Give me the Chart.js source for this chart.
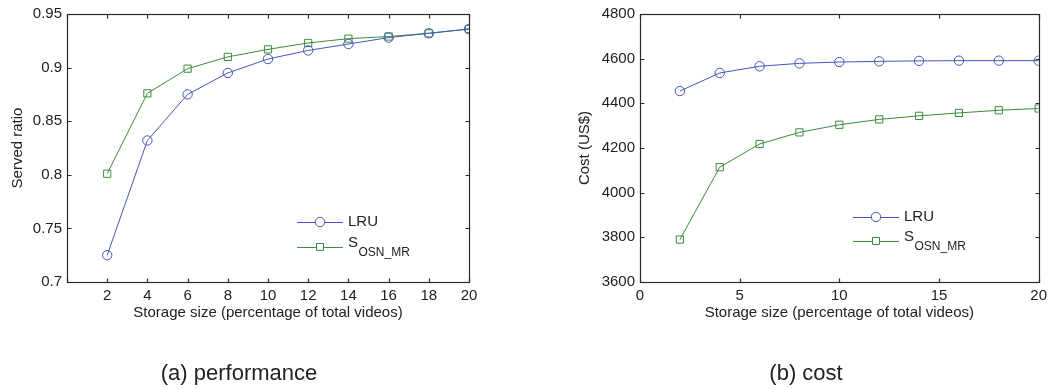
<!DOCTYPE html>
<html>
<head>
<meta charset="utf-8">
<script src="https://cdn.jsdelivr.net/npm/chart.js@4.4.0/dist/chart.umd.min.js"></script>
<style>
html, body { margin: 0; padding: 0; background: #fff; }
#wrap { position: relative; width: 1052px; height: 389px; overflow: hidden; }
.panel { position: absolute; top: 0; height: 389px; }
</style>
</head>
<body>
<div id="wrap">
	<div class="panel" style="left:0;width:520px"><canvas id="perfChart" width="520" height="389"></canvas></div>
	<div class="panel" style="left:520px;width:532px"><canvas id="costChart" width="532" height="389"></canvas></div>
</div>
<script>
// storage size (% of total videos)
var storageSizes = [2, 4, 6, 8, 10, 12, 14, 16, 18, 20];

// served ratio
var lruServed = [0.725, 0.832, 0.875, 0.895, 0.908, 0.916, 0.922, 0.928, 0.932, 0.936];
var osnServed = [0.801, 0.876, 0.899, 0.910, 0.917, 0.923, 0.927, 0.929, 0.932, 0.936];

// cost in US$
var lruCost = [4455, 4536, 4566, 4579, 4585, 4588, 4590, 4591, 4591, 4591];
var osnCost = [3790, 4114, 4218, 4270, 4304, 4328, 4344, 4357, 4369, 4377];

// axis ticks
var perfXTicks = [0, 2, 4, 6, 8, 10, 12, 14, 16, 18, 20];
var perfYTicks = [0.7, 0.75, 0.8, 0.85, 0.9, 0.95];
var costXTicks = [0, 5, 10, 15, 20];
var costYTicks = [3600, 3800, 4000, 4200, 4400, 4600, 4800];

var seriesNames = ['LRU', 'S'];
var seriesSubs = ['', 'OSN_MR'];

var BLUE = '#4257c0';
var GREEN = '#3b8c3b';
var INK = '#222222';

Chart.defaults.font.family = '"Liberation Sans", Arial, sans-serif';
Chart.defaults.font.size = 15;
Chart.defaults.color = INK;

function toPoints(xs, ys) {
	return xs.map(function (x, i) { return { x: x, y: ys[i] }; });
}

function fixedTicks(list) {
	return function (scale) {
		scale.ticks = list.map(function (v) { return { value: v }; });
	};
}

// box around the plot with inward tick marks on all four sides
var boxPlugin = {
	id: 'boxAxes',
	beforeDatasetsDraw: function (chart) {
		var ctx = chart.ctx, a = chart.chartArea;
		var xs = chart.scales.x, ys = chart.scales.y;
		var L = Math.round(a.left) + 0.5, R = Math.round(a.right) + 0.5;
		var T = Math.round(a.top) + 0.5, B = Math.round(a.bottom) + 0.5;
		ctx.save();
		ctx.strokeStyle = '#2a2a2a';
		ctx.lineWidth = 1.2;
		ctx.strokeRect(L, T, R - L, B - T);
		ctx.beginPath();
		xs.ticks.forEach(function (t) {
			var px = Math.round(xs.getPixelForValue(t.value)) + 0.5;
			ctx.moveTo(px, B); ctx.lineTo(px, B - 4);
			ctx.moveTo(px, T); ctx.lineTo(px, T + 4);
		});
		ys.ticks.forEach(function (t) {
			var py = Math.round(ys.getPixelForValue(t.value)) + 0.5;
			ctx.moveTo(L, py); ctx.lineTo(L + 4, py);
			ctx.moveTo(R, py); ctx.lineTo(R - 4, py);
		});
		ctx.stroke();
		ctx.restore();
	}
};

// legend drawn inside the plot, marker on a short line, name with subscript
var inlineLegend = {
	id: 'inlineLegend',
	afterDraw: function (chart, args, opts) {
		var ctx = chart.ctx;
		ctx.save();
		chart.data.datasets.forEach(function (ds, i) {
			var y = opts.y + i * opts.gap;
			var x = opts.x;
			ctx.strokeStyle = ds.borderColor;
			ctx.lineWidth = 1;
			ctx.beginPath();
			ctx.moveTo(x, y + 0.5);
			ctx.lineTo(x + 46, y + 0.5);
			ctx.stroke();
			var mx = x + 23;
			ctx.beginPath();
			if (ds.pointStyle === 'rect') {
				ctx.rect(mx - 3.5, y - 3.5, 7, 7);
			} else {
				ctx.arc(mx, y, 4.7, 0, Math.PI * 2);
			}
			ctx.fillStyle = '#fff';
			ctx.fill();
			ctx.stroke();

			ctx.fillStyle = INK;
			ctx.textBaseline = 'middle';
			ctx.textAlign = 'left';
			ctx.font = '15px "Liberation Sans", Arial, sans-serif';
			ctx.fillText(seriesNames[i], x + 51, y - (seriesSubs[i] ? 4 : 0));
			if (seriesSubs[i]) {
				var w = ctx.measureText(seriesNames[i]).width;
				ctx.font = '12px "Liberation Sans", Arial, sans-serif';
				ctx.fillText(seriesSubs[i], x + 51 + w + 0.5, y + 6);
			}
		});
		ctx.restore();
	}
};

function lineSet(label, pts, color, style, radius) {
	return {
		label: label,
		data: pts,
		borderColor: color,
		backgroundColor: 'rgba(0,0,0,0)',
		borderWidth: 1,
		pointStyle: style,
		pointRadius: radius,
		pointBorderWidth: 1,
		pointBorderColor: color,
		pointBackgroundColor: 'rgba(0,0,0,0)',
		tension: 0
	};
}

function makeChart(id, cfg) {
	return new Chart(document.getElementById(id).getContext('2d'), {
		type: 'line',
		data: {
			datasets: [
				lineSet('LRU', toPoints(storageSizes, cfg.lru), BLUE, 'circle', 4.7),
				lineSet('S_OSN_MR', toPoints(storageSizes, cfg.osn), GREEN, 'rect', 5.1)
			]
		},
		options: {
			responsive: false,
			animation: false,
			layout: { padding: { left: cfg.padLeft, right: cfg.padRight, top: 10, bottom: 0 } },
			scales: {
				x: {
					type: 'linear',
					min: 0, max: 20,
					afterBuildTicks: fixedTicks(cfg.xTicks),
					afterFit: function (scale) { scale.height = 78.6; },
					grid: { display: false, drawTicks: false },
					border: { display: false },
					ticks: {
						padding: 5,
						maxRotation: 0,
						autoSkip: false,
						callback: cfg.xLabel
					},
					title: {
						display: true,
						text: 'Storage size (percentage of total videos)',
						font: { size: 15 },
						padding: { top: 0, bottom: 38.6 }
					}
				},
				y: {
					min: cfg.yMin, max: cfg.yMax,
					afterBuildTicks: fixedTicks(cfg.yTicks),
					afterFit: function (scale) { scale.width = cfg.yWidth; },
					grid: { display: false, drawTicks: false },
					border: { display: false },
					ticks: { padding: 5, autoSkip: false, callback: cfg.yLabel },
					title: {
						display: true,
						text: cfg.yTitle,
						font: { size: 15 },
						padding: { top: cfg.yTitlePad, bottom: 0 }
					}
				}
			},
			plugins: {
				legend: { display: false },
				tooltip: { enabled: false },
				title: {
					display: true,
					position: 'bottom',
					text: cfg.caption,
					font: { size: 22, weight: 'normal' },
					color: INK,
					padding: { top: 0, bottom: 2 }
				},
				inlineLegend: cfg.legend
			}
		},
		plugins: [boxPlugin, inlineLegend]
	});
}

// (a) served ratio
makeChart('perfChart', {
	lru: lruServed,
	osn: osnServed,
	xTicks: perfXTicks,
	yTicks: perfYTicks,
	yMin: 0.7, yMax: 0.95,
	xLabel: function (v) { return v === 0 ? '' : String(v); },
	yLabel: function (v) { return String(Math.round(v * 100) / 100); },
	yTitle: 'Served ratio',
	yTitlePad: 0,
	yWidth: 58,
	padLeft: 9,
	padRight: 51,
	caption: '(a) performance',
	legend: { x: 297, y: 222, gap: 25 }
});

// (b) cost
makeChart('costChart', {
	lru: lruCost,
	osn: osnCost,
	xTicks: costXTicks,
	yTicks: costYTicks,
	yMin: 3600, yMax: 4800,
	xLabel: function (v) { return String(v); },
	yLabel: function (v) { return String(v); },
	yTitle: 'Cost (US$)',
	yTitlePad: 6,
	yWidth: 70,
	padLeft: 50,
	padRight: 10,
	caption: '(b) cost',
	legend: { x: 333, y: 217, gap: 24 }
});
</script>
</body>
</html>
